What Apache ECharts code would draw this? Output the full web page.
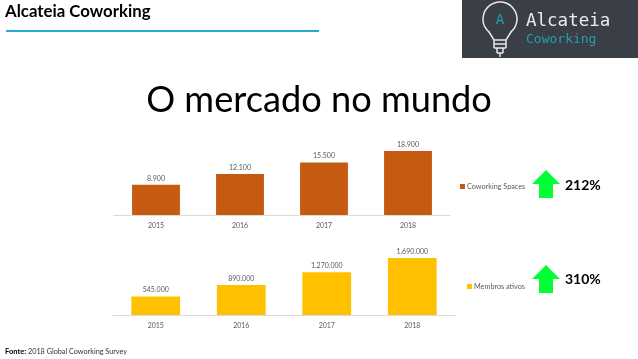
<!DOCTYPE html>
<html>
<head>
<meta charset="utf-8">
<style>
  html, body { margin: 0; padding: 0; background: #fff; }
  #chart { width: 638px; height: 359px; }
</style>
<script src="https://cdn.jsdelivr.net/npm/echarts@6/dist/echarts.min.js"></script>
</head>
<body>
<div id="chart"></div>
<script>
// dados
const anos = ['2015', '2016', '2017', '2018'];
const espacos = [8900, 12100, 15500, 18900];
const membros = [545000, 890000, 1270000, 1690000];
const nomeEspacos = 'Coworking Spaces';
const nomeMembros = 'Membros ativos';
const crescimento = ['212%', '310%'];

const fonte = 'Lato, "Open Sans", sans-serif';
const mono = '"DejaVu Sans Mono", monospace';
const cinza = '#595959';

// separador de milhar com ponto
function milhar(v) {
    return String(v).replace(/\B(?=(\d{3})+$)/g, '.');
}

function eixoX(grid) {
    return {
        type: 'category', gridIndex: grid, data: anos,
        axisTick: { show: false },
        axisLine: { lineStyle: { color: '#d9d9d9', width: 1 } },
        axisLabel: { color: cinza, fontSize: 7, fontFamily: fonte, margin: 7 }
    };
}

function eixoY(grid, max) {
    return { type: 'value', gridIndex: grid, min: 0, max: max, show: false, splitLine: { show: false } };
}

function barras(nome, dados, cor, grid) {
    return {
        name: nome, type: 'bar', xAxisIndex: grid, yAxisIndex: grid,
        data: dados, barWidth: '57%', itemStyle: { color: cor },
        label: {
            show: true, position: 'top', distance: 3, color: cinza,
            fontSize: 7, fontFamily: fonte, formatter: p => milhar(p.value)
        }
    };
}

function legenda(nome, left, top) {
    return {
        data: [nome], left: left, top: top, orient: 'horizontal',
        itemWidth: 5, itemHeight: 5, itemGap: 2, padding: 0, icon: 'rect',
        textStyle: { color: cinza, fontSize: 7.25, fontFamily: fonte, padding: [0, 0, 0, -3] },
        selectedMode: false
    };
}

function texto(x, y, s, size, cor, peso, align, familia) {
    return {
        type: 'text', x: x, y: y, silent: true,
        style: {
            text: s, fill: cor, fontSize: size, fontWeight: peso || 'normal',
            fontFamily: familia || fonte, textAlign: align || 'left', textVerticalAlign: 'middle'
        }
    };
}

function seta(y) {
    return {
        type: 'polygon', silent: true,
        shape: { points: [[546, y], [560, y + 14], [553, y + 14], [553, y + 28], [539, y + 28], [539, y + 14], [532, y + 14]] },
        style: { fill: '#00ff33' }
    };
}

// logo desenhado a mao
function logo() {
    const traco = { stroke: '#e8e8e8', lineWidth: 1.5, fill: null };
    const linha = (x1, y1, x2, y2) => ({ type: 'line', silent: true, shape: { x1, y1, x2, y2 }, style: traco });
    return [
        { type: 'rect', silent: true, shape: { x: 462, y: 0, width: 176, height: 58 }, style: { fill: '#3a3e46' } },
        { type: 'arc', silent: true, shape: { cx: 500, cy: 19, r: 17, startAngle: 0.9, endAngle: 2.24, clockwise: false }, style: traco },
        linha(489, 32, 494, 40), linha(511, 32, 506, 40),
        linha(494, 40, 506, 40), linha(494, 44, 506, 44), linha(494, 48, 506, 48),
        linha(494, 40, 494, 48), linha(506, 40, 506, 48),
        linha(497, 53, 503, 53), linha(500, 53, 500, 57), linha(497, 48, 497, 53), linha(503, 48, 503, 53),
        texto(500, 20, 'A', 14, '#1fa3a8', 'normal', 'center', mono),
        texto(526, 21, 'Alcateia', 17.5, '#ececec', 'normal', 'left', mono),
        texto(526, 40, 'Coworking', 13, '#1fa3a8', 'normal', 'left', mono)
    ];
}

const myChart = echarts.init(document.getElementById('chart'), null, { renderer: 'canvas' });
myChart.setOption({
    animation: false,
    backgroundColor: '#fff',
    legend: [legenda(nomeEspacos, 460, 183), legenda(nomeMembros, 467, 283)],
    grid: [
        { left: 114, width: 336, top: 151, height: 64 },
        { left: 113, width: 342, top: 258, height: 57 }
    ],
    xAxis: [eixoX(0), eixoX(1)],
    yAxis: [eixoY(0, 18900), eixoY(1, 1690000)],
    series: [
        barras(nomeEspacos, espacos, '#c55a11', 0),
        barras(nomeMembros, membros, '#ffc000', 1)
    ],
    graphic: { elements: [
        texto(5, 12, 'Alcateia Coworking', 16.8, '#000', 'bold'),
        { type: 'rect', silent: true, shape: { x: 6, y: 30, width: 313, height: 2 }, style: { fill: '#2aa9d8' } },
        texto(319, 100, 'O mercado no mundo', 36.2, '#000', 'normal', 'center'),
        seta(170), seta(265),
        texto(565, 185, crescimento[0], 14, '#000', 'bold'),
        texto(565, 279, crescimento[1], 14, '#000', 'bold'),
        texto(5, 352, 'Fonte:', 7.5, '#000', 'bold'),
        texto(28, 352, '2018 Global Coworking Survey', 7.25, '#333'),
        ...logo()
    ] }
});
</script>
</body>
</html>
